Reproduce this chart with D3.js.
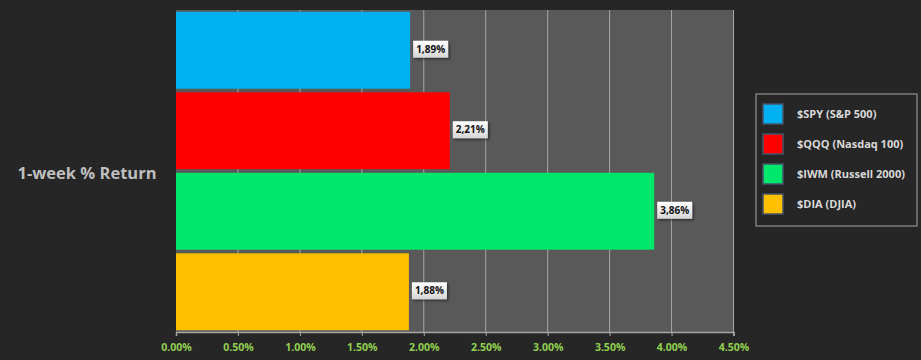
<!DOCTYPE html>
<html>
<head>
<meta charset="utf-8">
<script src="https://cdn.jsdelivr.net/npm/d3@7"></script>
<style>
	body { margin: 0; background: #262626; }
	text { font-family: "Open Sans", "DejaVu Sans", sans-serif; }
</style>
</head>
<body>
<div id="wrapper"></div>
<script>
// data
const tickers = ["$SPY (S&P 500)", "$QQQ (Nasdaq 100)", "$IWM (Russell 2000)", "$DIA (DJIA)"];
const returns = [1.89, 2.21, 3.86, 1.88];
const barColors = ["#00b0f0", "#ff0000", "#00e86c", "#ffc000"];
const xTicks = [0, 0.5, 1, 1.5, 2, 2.5, 3, 3.5, 4, 4.5];
const axisTitle = "1-week % Return";

const dimensions = {
	width: 921,
	height: 360,
	margin: { top: 10, right: 187.5, bottom: 28, left: 176 }
};
dimensions.boundedWidth = dimensions.width - dimensions.margin.left - dimensions.margin.right;
dimensions.boundedHeight = dimensions.height - dimensions.margin.top - dimensions.margin.bottom;

const svg = d3.select("#wrapper").append("svg")
	.attr("width", dimensions.width)
	.attr("height", dimensions.height);

svg.append("rect")
	.attr("width", dimensions.width)
	.attr("height", dimensions.height)
	.attr("fill", "#262626");

const defs = svg.append("defs");
const grad = defs.append("linearGradient")
	.attr("id", "label-bg")
	.attr("x1", 0).attr("y1", 0).attr("x2", 0).attr("y2", 1);
grad.append("stop").attr("offset", "0%").attr("stop-color", "#ffffff");
grad.append("stop").attr("offset", "100%").attr("stop-color", "#d6d6d6");
const shadow = defs.append("filter").attr("id", "shadow")
	.attr("x", "-20%").attr("y", "-20%").attr("width", "150%").attr("height", "160%");
shadow.append("feDropShadow")
	.attr("dx", 1.5).attr("dy", 1.5).attr("stdDeviation", 1)
	.attr("flood-color", "#000").attr("flood-opacity", 0.5);

const bounds = svg.append("g")
	.attr("transform", `translate(${dimensions.margin.left}, ${dimensions.margin.top})`);

// scales
const xScale = d3.scaleLinear()
	.domain([0, 4.5])
	.range([0, dimensions.boundedWidth]);

const yScale = d3.scaleBand()
	.domain(tickers)
	.range([0, dimensions.boundedHeight])
	.paddingInner(0.045)
	.paddingOuter(0.022);

// plot background
bounds.append("rect")
	.attr("width", dimensions.boundedWidth)
	.attr("height", dimensions.boundedHeight)
	.attr("fill", "#595959");

// gridlines
bounds.append("g")
	.selectAll("line")
	.data(xTicks.slice(1))
	.join("line")
	.attr("x1", d => xScale(d))
	.attr("x2", d => xScale(d))
	.attr("y1", 0)
	.attr("y2", dimensions.boundedHeight)
	.attr("stroke", "#a6a6a6")
	.attr("stroke-width", 1);

// bars
bounds.selectAll(".bar")
	.data(tickers)
	.join("rect")
	.attr("class", "bar")
	.attr("x", 0)
	.attr("y", d => yScale(d))
	.attr("width", (d, i) => xScale(returns[i]))
	.attr("height", yScale.bandwidth())
	.attr("fill", (d, i) => barColors[i]);

// data labels
const fmt = v => d3.format(".2f")(v).replace(".", ",") + "%";
const labels = bounds.selectAll(".label")
	.data(tickers)
	.join("g")
	.attr("class", "label")
	.attr("transform", (d, i) => `translate(${xScale(returns[i]) + 3}, ${yScale(d) + yScale.bandwidth() / 2 - 1})`);

labels.append("rect")
	.attr("x", 0)
	.attr("y", -8.5)
	.attr("width", 35)
	.attr("height", 17)
	.attr("fill", "url(#label-bg)")
	.attr("filter", "url(#shadow)");

labels.append("text")
	.attr("x", 17.5)
	.attr("y", 0)
	.attr("dy", "0.35em")
	.attr("text-anchor", "middle")
	.attr("font-size", 10)
	.attr("font-weight", "bold")
	.attr("fill", "#111")
	.text((d, i) => fmt(returns[i]));

// x axis
const xAxis = d3.axisBottom(xScale)
	.tickValues(xTicks)
	.tickSize(4)
	.tickFormat(d => d3.format(".2f")(d) + "%");

const xAxisGroup = bounds.append("g")
	.attr("transform", `translate(0, ${dimensions.boundedHeight})`)
	.call(xAxis);

xAxisGroup.select(".domain").attr("stroke", "#a6a6a6").attr("stroke-width", 1.5);
xAxisGroup.selectAll(".tick line").attr("stroke", "#a6a6a6");
xAxisGroup.selectAll(".tick text")
	.attr("y", 12)
	.attr("fill", "#92d050")
	.attr("font-size", 10.5)
	.attr("font-weight", "bold")
	.attr("font-family", "'Open Sans', sans-serif");

// y axis title
svg.append("text")
	.attr("x", 87)
	.attr("y", 173)
	.attr("dy", "0.35em")
	.attr("text-anchor", "middle")
	.attr("font-size", 16.5)
	.attr("font-weight", "bold")
	.attr("fill", "#bfbfbf")
	.text(axisTitle);

// legend
const legend = svg.append("g")
	.attr("transform", "translate(756, 94)");

legend.append("rect")
	.attr("width", 161)
	.attr("height", 132)
	.attr("fill", "#262626")
	.attr("stroke", "#a6a6a6")
	.attr("stroke-width", 1);

const legendItems = legend.selectAll(".legend-item")
	.data(tickers)
	.join("g")
	.attr("class", "legend-item")
	.attr("transform", (d, i) => `translate(7, ${10 + i * 30})`);

legendItems.append("rect")
	.attr("width", 20)
	.attr("height", 20)
	.attr("fill", (d, i) => barColors[i])
	.attr("stroke", "#44546a")
	.attr("stroke-width", 1.5);

legendItems.append("text")
	.attr("x", 34)
	.attr("y", 10)
	.attr("dy", "0.35em")
	.attr("font-size", 11)
	.attr("font-weight", "bold")
	.attr("fill", "#d9d9d9")
	.text(d => d);
</script>
</body>
</html>
